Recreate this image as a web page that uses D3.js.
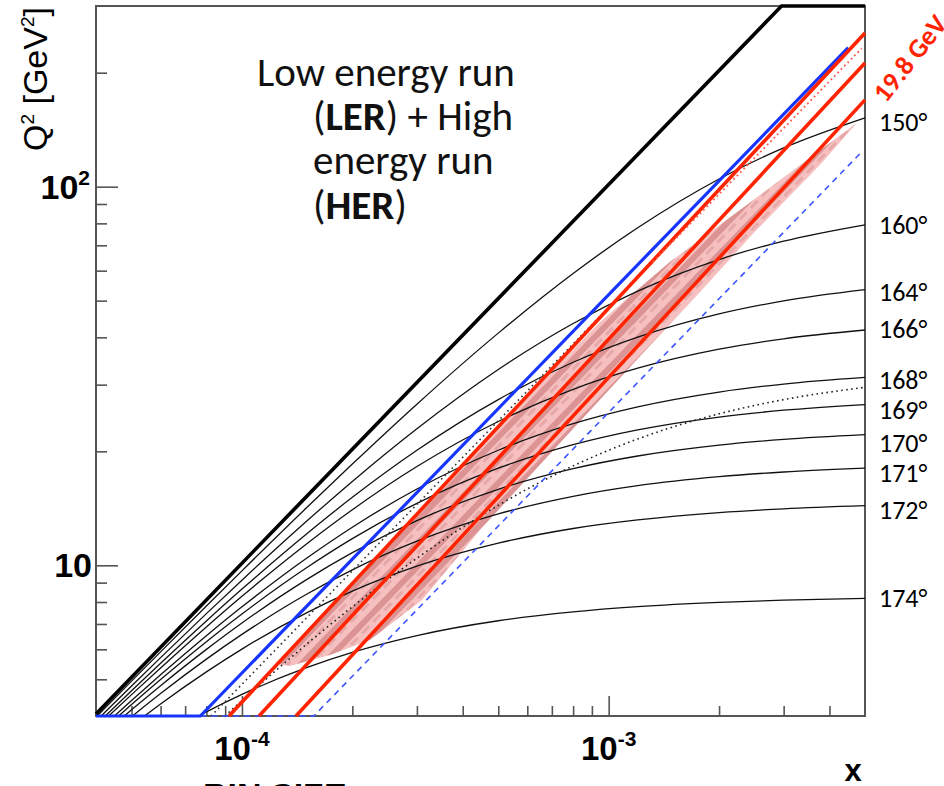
<!DOCTYPE html>
<html lang="en">
<head>
<meta charset="UTF-8">
<title>Q2 vs x kinematic plane</title>
<style>
    body, html { margin: 0; padding: 0; background: #fff; }
    svg { display: block; }
</style>
</head>
<body>
<svg id="svg" width="944" height="786"></svg>
<script src="https://d3js.org/d3.v7.min.js"></script>
<script>
// ---- axis ticks
const xMajor = [1e-4, 1e-3];
const xMajorSup = ["-4", "-3"];
const xMinor = [5e-5, 6e-5, 7e-5, 8e-5, 9e-5, 2e-4, 3e-4, 4e-4, 5e-4, 6e-4, 7e-4, 8e-4, 9e-4, 2e-3, 3e-3, 4e-3];
const yMajor = [10, 100];
const yMajorSup = ["", "2"];
const yMinor = [5, 6, 7, 8, 9, 20, 30, 40, 50, 60, 70, 80, 90, 200];

// ---- kinematic limit (thick black), [x, Q2]
const kinLimit = [[4e-5, 4.05], [2.96e-3, 300], [5e-3, 300]];

// ---- constant electron angle curves (thin black), [x, Q2]
const theta150 = [[4.03e-5, 4], [5e-5, 4.945], [6e-5, 5.907], [8e-5, 7.805], [1e-4, 9.67], [1.5e-4, 14.19], [2e-4, 18.51], [3e-4, 26.64], [5e-4, 41.04], [8e-4, 58.98], [1.2e-3, 77.89], [2e-3, 104.8], [3e-3, 126.6], [5e-3, 152.0]];
const theta160 = [[4.13e-5, 4], [5e-5, 4.802], [6e-5, 5.704], [8e-5, 7.454], [1e-4, 9.137], [1.5e-4, 13.07], [2e-4, 16.66], [3e-4, 22.95], [5e-4, 32.9], [8e-4, 43.51], [1.2e-3, 53.0], [2e-3, 64.21], [3e-3, 71.8], [5e-3, 79.31]];
const theta164 = [[4.24e-5, 4], [5e-5, 4.665], [6e-5, 5.512], [8e-5, 7.13], [1e-4, 8.654], [1.5e-4, 12.1], [2e-4, 15.12], [3e-4, 20.13], [5e-4, 27.4], [8e-4, 34.38], [1.2e-3, 40.05], [2e-3, 46.13], [3e-3, 49.93], [5e-3, 53.44]];
const theta166 = [[4.33e-5, 4], [5e-5, 4.555], [6e-5, 5.358], [8e-5, 6.875], [1e-4, 8.282], [1.5e-4, 11.39], [2e-4, 14.02], [3e-4, 18.23], [5e-4, 23.98], [8e-4, 29.17], [1.2e-3, 33.15], [2e-3, 37.22], [3e-3, 39.65], [5e-3, 41.83]];
const theta168 = [[4.49e-5, 4], [5e-5, 4.395], [6e-5, 5.138], [8e-5, 6.517], [1e-4, 7.768], [1.5e-4, 10.44], [2e-4, 12.61], [3e-4, 15.91], [5e-4, 20.13], [8e-4, 23.66], [1.2e-3, 26.21], [2e-3, 28.68], [3e-3, 30.11], [5e-3, 31.35]];
const theta169 = [[4.61e-5, 4], [5e-5, 4.287], [6e-5, 4.991], [8e-5, 6.283], [1e-4, 7.437], [1.5e-4, 9.85], [2e-4, 11.76], [3e-4, 14.58], [5e-4, 18.05], [8e-4, 20.83], [1.2e-3, 22.79], [2e-3, 24.64], [3e-3, 25.68], [5e-3, 26.58]];
const theta170 = [[4.78e-5, 4], [5e-5, 4.152], [6e-5, 4.81], [8e-5, 5.998], [1e-4, 7.042], [1.5e-4, 9.168], [2e-4, 10.8], [3e-4, 13.13], [5e-4, 15.88], [8e-4, 18.0], [1.2e-3, 19.44], [2e-3, 20.77], [3e-3, 21.51], [5e-3, 22.14]];
const theta171 = [[5.03e-5, 4], [6e-5, 4.585], [8e-5, 5.653], [1e-4, 6.57], [1.5e-4, 8.385], [2e-4, 9.728], [3e-4, 11.58], [5e-4, 13.67], [8e-4, 15.21], [1.2e-3, 16.23], [2e-3, 17.14], [3e-3, 17.64], [5e-3, 18.06]];
const theta172 = [[5.42e-5, 4], [6e-5, 4.305], [8e-5, 5.232], [1e-4, 6.009], [1.5e-4, 7.491], [2e-4, 8.546], [3e-4, 9.945], [5e-4, 11.44], [8e-4, 12.51], [1.2e-3, 13.18], [2e-3, 13.78], [3e-3, 14.1], [5e-3, 14.37]];
const theta174 = [[7.62e-5, 4], [8e-5, 4.101], [1e-4, 4.563], [1.5e-4, 5.37], [2e-4, 5.891], [3e-4, 6.524], [5e-4, 7.138], [8e-4, 7.536], [1.2e-3, 7.778], [2e-3, 7.982], [3e-3, 8.089], [5e-3, 8.176]];

// angle labels at the right, and the Q2 where each label sits
const angleLabels = ["150°", "160°", "164°", "166°", "168°", "169°", "170°", "171°", "172°", "174°"];
const angleLabelQ2 = [145.6, 77.8, 51.8, 41.3, 30.3, 25.3, 20.7, 17.2, 13.8, 8.05];

// low energy run 168 deg curve (dotted black)
const ler168 = [[8.98e-5, 4], [1e-4, 4.395], [1.5e-4, 6.185], [2e-4, 7.768], [3e-4, 10.44], [5e-4, 14.4], [8e-4, 18.31], [1.2e-3, 21.56], [2e-3, 25.12], [3e-3, 27.39], [5e-3, 29.52]];

// blue lines
const blueSolid = [[4e-5, 4], [7.7e-5, 4], [4.5e-3, 233]];
const blueDashed = [[7.7e-5, 4], [1.57e-4, 4], [4.9e-3, 123.6]];

// red lines
const red1 = [[9.22e-5, 4], [5e-3, 254.7]];
const red2 = [[1.113e-4, 4], [5e-3, 212.2]];
const red3 = [[1.404e-4, 4], [5e-3, 169.5]];
const dotBlack = [[8.24e-5, 4], [1.32e-3, 63.3]];
const dotRed = [[1.32e-3, 63.3], [4.9e-3, 232]];

// measured bins band (pink)
const band = [[1.246e-4, 5.49], [2.698e-4, 12.1], [5.73e-4, 26.69], [9.47e-4, 43.9], [1.47e-3, 63.3], [2.587e-3, 95.1], [4.756e-3, 147.4],
    [3.771e-3, 114.2], [2.46e-3, 74.6], [1.775e-3, 52.7], [1.225e-3, 35.9], [7.28e-4, 20.8], [4.46e-4, 12.4], [3.1e-4, 8.1], [2.235e-4, 6.35], [1.738e-4, 5.8], [1.352e-4, 5.42]];

const margin = { top: 6, right: 79, bottom: 70, left: 96 };
const width = 944 - margin.left - margin.right;
const height = 786 - margin.top - margin.bottom;

const xscale = d3.scaleLog().domain([4e-5, 5e-3]).range([margin.left, margin.left + width]);
const yscale = d3.scaleLog().domain([4, 300]).range([margin.top + height, margin.top]);

const svg = d3.select('#svg');
const defs = svg.append('defs');

defs.append('clipPath').attr('id', 'plotclip')
    .append('rect')
    .attr('x', margin.left - 3).attr('y', margin.top - 3)
    .attr('width', width + 6).attr('height', height + 6);

// texture of the bins band
const pat = defs.append('pattern')
    .attr('id', 'bins')
    .attr('patternUnits', 'userSpaceOnUse')
    .attr('width', 16).attr('height', 16)
    .attr('patternTransform', 'rotate(-46)');
pat.append('rect').attr('width', 16).attr('height', 16).attr('fill', '#f6bdbd');
pat.append('rect').attr('x', 0).attr('y', 3).attr('width', 16).attr('height', 6).attr('fill', '#d98d8d');
pat.append('rect').attr('x', 4).attr('y', 11).attr('width', 10).attr('height', 3).attr('fill', '#e5a3a3');

// frame
svg.append('rect')
    .attr('x', margin.left).attr('y', margin.top)
    .attr('width', width).attr('height', height)
    .attr('fill', 'none').attr('stroke', '#555').attr('stroke-width', 2);

// ticks (pointing into the plot)
const tickColor = '#555';
function styleTicks(g) {
    g.select('.domain').remove();
    g.selectAll('line').attr('stroke', tickColor).attr('stroke-width', 1.6);
}
svg.append('g')
    .attr('transform', `translate(0, ${margin.top + height})`)
    .call(d3.axisBottom(xscale).tickValues(xMinor).tickSize(-10).tickFormat(''))
    .call(styleTicks);
svg.append('g')
    .attr('transform', `translate(0, ${margin.top + height})`)
    .call(d3.axisBottom(xscale).tickValues(xMajor).tickSize(-20).tickFormat(''))
    .call(styleTicks);
svg.append('g')
    .attr('transform', `translate(${margin.left}, 0)`)
    .call(d3.axisLeft(yscale).tickValues(yMinor).tickSize(-11).tickFormat(''))
    .call(styleTicks);
svg.append('g')
    .attr('transform', `translate(${margin.left}, 0)`)
    .call(d3.axisLeft(yscale).tickValues(yMajor).tickSize(-22).tickFormat(''))
    .call(styleTicks);

// tick labels
const tickFont = '"Liberation Sans", Arial, Helvetica, sans-serif';
xMajor.forEach((v, i) => {
    const t = svg.append('text')
        .attr('x', xscale(v)).attr('y', 760)
        .attr('text-anchor', 'middle')
        .style('font-family', tickFont).style('font-weight', 'bold').style('font-size', '33px');
    t.append('tspan').text('10');
    t.append('tspan').attr('dy', -14).style('font-size', '21px').text(xMajorSup[i]);
});
yMajor.forEach((v, i) => {
    const t = svg.append('text')
        .attr('x', i === 0 ? 92 : 90).attr('y', yscale(v) + 12)
        .attr('text-anchor', 'end')
        .style('font-family', tickFont).style('font-weight', 'bold').style('font-size', '34px');
    t.append('tspan').text('10');
    if (yMajorSup[i]) t.append('tspan').attr('dy', -14).style('font-size', '21px').text(yMajorSup[i]);
});

// axis titles
const yTitle = svg.append('text')
    .attr('transform', 'translate(47, 79) rotate(-90)')
    .attr('text-anchor', 'middle')
    .style('font-family', tickFont).style('font-size', '34px');
yTitle.append('tspan').text('Q');
yTitle.append('tspan').attr('dy', -13).style('font-size', '19px').text('2');
yTitle.append('tspan').attr('dy', 13).text(' [GeV');
yTitle.append('tspan').attr('dy', -13).style('font-size', '19px').text('2');
yTitle.append('tspan').attr('dy', 13).text(']');

svg.append('text')
    .attr('x', 853).attr('y', 781)
    .attr('text-anchor', 'middle')
    .style('font-family', tickFont).style('font-weight', 'bold').style('font-size', '31px')
    .text('x');

svg.append('text')
    .attr('x', 203).attr('y', 807)
    .style('font-family', tickFont).style('font-weight', 'bold').style('font-size', '34px')
    .text('BIN SIZE');

// plot contents
const plot = svg.append('g').attr('clip-path', 'url(#plotclip)');
const line = d3.line()
    .x(d => xscale(d[0]))
    .y(d => yscale(d[1]))
    .curve(d3.curveMonotoneX);
const straight = d3.line()
    .x(d => xscale(d[0]))
    .y(d => yscale(d[1]));

plot.append('path')
    .datum(band)
    .attr('d', d3.line().x(d => xscale(d[0])).y(d => yscale(d[1])).curve(d3.curveLinearClosed))
    .attr('fill', 'url(#bins)')
    .attr('opacity', 0.95);

const angleCurves = [theta150, theta160, theta164, theta166, theta168, theta169, theta170, theta171, theta172, theta174];
angleCurves.forEach(c => {
    plot.append('path')
        .datum(c)
        .attr('d', line)
        .attr('fill', 'none')
        .attr('stroke', '#111')
        .attr('stroke-width', 1.3);
});

plot.append('path')
    .datum(ler168)
    .attr('d', line)
    .attr('fill', 'none')
    .attr('stroke', '#222')
    .attr('stroke-width', 1.6)
    .attr('stroke-dasharray', '1.6,3.4');

plot.append('path')
    .datum(dotBlack)
    .attr('d', straight)
    .attr('fill', 'none')
    .attr('stroke', '#333')
    .attr('stroke-width', 1.6)
    .attr('stroke-dasharray', '1.6,3.4');

plot.append('path')
    .datum(blueDashed)
    .attr('d', straight)
    .attr('fill', 'none')
    .attr('stroke', '#3a55ff')
    .attr('stroke-width', 1.6)
    .attr('stroke-dasharray', '6,5');

plot.append('path')
    .datum(blueSolid)
    .attr('d', straight)
    .attr('fill', 'none')
    .attr('stroke', '#1636ff')
    .attr('stroke-width', 3.2);

[red1, red2, red3].forEach(r => {
    plot.append('path')
        .datum(r)
        .attr('d', straight)
        .attr('fill', 'none')
        .attr('stroke', '#ff2400')
        .attr('stroke-width', 3.6);
});

plot.append('path')
    .datum(dotRed)
    .attr('d', straight)
    .attr('fill', 'none')
    .attr('stroke', '#ff5a4a')
    .attr('stroke-width', 1.8)
    .attr('stroke-dasharray', '1.8,3');

plot.append('path')
    .datum(kinLimit)
    .attr('d', straight)
    .attr('fill', 'none')
    .attr('stroke', '#000')
    .attr('stroke-width', 3.6);

// angle labels
const annFont = 'Carlito, Calibri, "Open Sans", sans-serif';
svg.selectAll('.angle')
    .data(angleLabels)
    .join('text')
    .attr('class', 'angle')
    .attr('x', 879)
    .attr('y', (d, i) => yscale(angleLabelQ2[i]))
    .attr('dominant-baseline', 'middle')
    .style('font-family', annFont).style('font-size', '26px')
    .text(d => d);

svg.append('text')
    .attr('transform', 'translate(912, 60) rotate(-52)')
    .attr('text-anchor', 'middle')
    .attr('dominant-baseline', 'middle')
    .style('font-family', annFont).style('font-weight', 'bold').style('font-size', '27px')
    .style('fill', '#ff2400')
    .text('19.8 GeV');

// run annotation
const note = svg.append('text')
    .style('font-family', annFont).style('font-size', '41px').style('fill', '#111');
note.append('tspan').attr('x', 257).attr('y', 86).text('Low energy run');
note.append('tspan').attr('x', 313).attr('y', 130).text('(');
note.append('tspan').style('font-weight', 'bold').text('LER');
note.append('tspan').text(') + High');
note.append('tspan').attr('x', 313).attr('y', 174).text('energy run');
note.append('tspan').attr('x', 313).attr('y', 219).text('(');
note.append('tspan').style('font-weight', 'bold').text('HER');
note.append('tspan').text(')');
</script>
</body>
</html>
